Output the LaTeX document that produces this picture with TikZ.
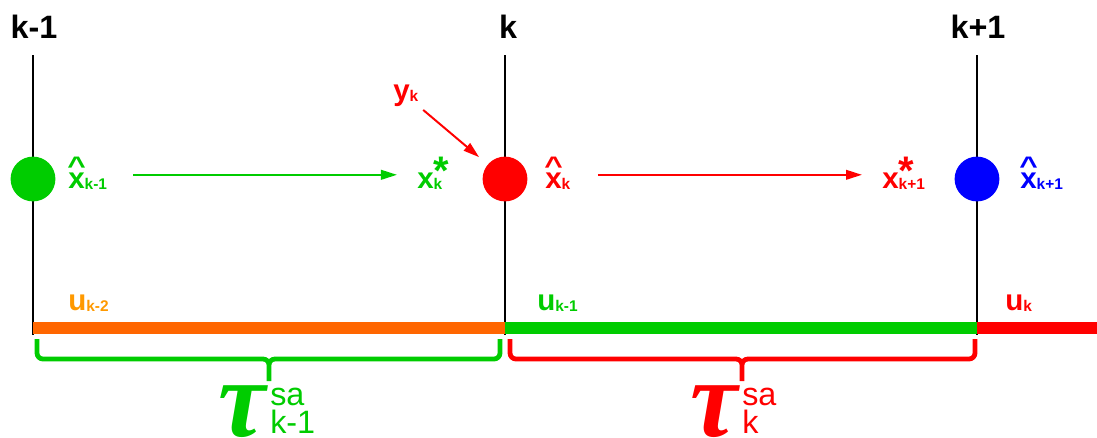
\documentclass[tikz,border=0pt]{standalone}
\usepackage{fontspec}
\setmainfont{Liberation Sans}
\newfontfamily\taufont{Liberation Serif}
\usetikzlibrary{positioning, arrows.meta}
\definecolor{stepgreen}{HTML}{00CC00}
\definecolor{stepred}{HTML}{FF0000}
\definecolor{stepblue}{HTML}{0000FF}
\definecolor{steporange}{HTML}{FF6600}
\definecolor{inputorange}{HTML}{FF9900}
\newcommand{\lsub}[1]{\raisebox{-0.05em}{\fontsize{11}{11}\selectfont #1}}
\newcommand{\xhat}{\ooalign{x\cr\hidewidth\raisebox{0.47em}{\scalebox{1.25}[1]{\fontsize{18}{18}\selectfont\textasciicircum}}\hidewidth\cr}}
\newcommand{\xstar}[1]{x\rlap{\raisebox{0.12em}{\scalebox{1.35}{*}}}\lsub{#1}}
\newcommand{\bigtau}{\resizebox{1.18cm}{1.27cm}{\taufont\bfseries\itshape τ}}
\tikzset{
  tick/.style  = {draw=black, line width=1.4pt},
  state/.style = {circle, fill=#1, inner sep=0pt, minimum size=1.12cm},
  lbl/.style   = {text=#1, font=\fontsize{21}{21}\selectfont\bfseries,
                  inner sep=0pt, anchor=base west},
  stamp/.style = {font=\fontsize{23}{23}\selectfont\bfseries, inner sep=0pt, anchor=base},
  seg/.style   = {draw=#1, line width=0.3cm},
  flow/.style  = {draw=#1, line width=1.4pt, -{Triangle[length=4mm,width=2.4mm]}},
  span/.style  = {draw=#1, line width=0.12cm, rounded corners=0.15cm},
  period/.style = {text=#1, font=\fontsize{23}{20}\selectfont, inner sep=0pt, align=left},
}
\begin{document}
\begin{tikzpicture}[x=0.025cm, y=-0.025cm]
  \useasboundingbox (0,0) rectangle (1097,437);

  % time steps
  \node[stamp] (s1) at (34,38) {k-1};
  \node[stamp] (s2) at (508,38) {k};
  \node[stamp] (s3) at (978,38) {k+1};
  \coordinate (t1) at (33,55);   \coordinate (b1) at (33,335);
  \coordinate (t2) at (505,55);  \coordinate (b2) at (505,335);
  \coordinate (t3) at (977,55);  \coordinate (b3) at (977,335);
  \draw[tick] (t1) -- (b1);
  \draw[tick] (t2) -- (b2);
  \draw[tick] (t3) -- (b3);

  % estimates
  \node[state=stepgreen] (p1) at (33,179) {};
  \node[state=stepred]   (p2) at (505,179) {};
  \node[state=stepblue]  (p3) at (977,179) {};
  \node[lbl=stepgreen] (xh1) at (68,188)   {\xhat\lsub{k-1}};
  \node[lbl=stepgreen] (xs1) at (417,188)  {\xstar{k}};
  \node[lbl=stepred]   (xh2) at (545,188)  {\xhat\lsub{k}};
  \node[lbl=stepred]   (xs2) at (882,188)  {\xstar{k+1}};
  \node[lbl=stepblue]  (xh3) at (1020,188) {\xhat\lsub{k+1}};
  \node[lbl=stepred]   (yk)  at (393,100)  {y\lsub{k}};

  \draw[flow=stepgreen, shorten <=0.65cm, shorten >=0.5cm]
    ([yshift=0.33cm]xh1.base east) -- ([yshift=0.33cm]xh1.base east -| xs1.west);
  \draw[flow=stepred, shorten <=0.68cm, shorten >=0.5cm]
    ([yshift=0.33cm]xh2.base east) -- ([yshift=0.33cm]xh2.base east -| xs2.west);
  \draw[flow=stepred, shorten <=0.15cm, shorten >=0.28cm] (yk) -- (p2);

  % inputs
  \coordinate (e3) at (1097,328);
  \draw[seg=steporange] (b1 |- e3) -- (b2 |- e3);
  \draw[seg=stepgreen]  (b2 |- e3) -- (b3 |- e3);
  \draw[seg=stepred]    (b3 |- e3) -- (e3);
  \node[lbl=inputorange] (u1) at (68,310)   {u\lsub{k-2}};
  \node[lbl=stepgreen]   (u2) at (537,310)  {u\lsub{k-1}};
  \node[lbl=stepred]     (u3) at (1005,310) {u\lsub{k}};

  % sampling intervals
  \coordinate (c1) at (37,339);  \coordinate (c2) at (500,339);
  \coordinate (m1) at (269,359); \coordinate (n1) at (269,381);
  \coordinate (c3) at (510,339); \coordinate (c4) at (975,339);
  \coordinate (m2) at (742,359); \coordinate (n2) at (742,381);
  \draw[span=stepgreen] (c1) |- (m1) -- (n1) (c2) |- (m1) -- (n1);
  \draw[span=stepred]   (c3) |- (m2) -- (n2) (c4) |- (m2) -- (n2);
  \node[anchor=north east, inner sep=0pt, text=stepgreen] (tau1) at (266,385) {\bigtau};
  \node[period=stepgreen, anchor=north west] (sa1) at (270,388) {sa\\k-1};
  \node[anchor=north east, inner sep=0pt, text=stepred] (tau2) at (738,385) {\bigtau};
  \node[period=stepred, anchor=north west] (sa2) at (742,388) {sa\\k};
\end{tikzpicture}
\end{document}
